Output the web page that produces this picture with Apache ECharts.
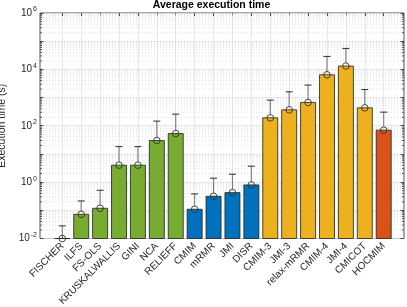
<!DOCTYPE html>
<html><head><meta charset="utf-8">
<script src="https://cdn.jsdelivr.net/npm/echarts@6/dist/echarts.min.js"></script>
<style>html,body{margin:0;padding:0;background:#fff}#c{width:407px;height:307px}</style>
</head><body><div id="c"></div>
<script>
const categories = ['FISCHER','ILFS','FS-OLS','KRUSKALWALLIS','GINI','NCA','RELIEFF','CMIM','mRMR','JMI','DISR','CMIM-3','JMI-3','relax-mRMR','CMIM-4','JMI-4','CMICOT','HOCMIM'];
const meanTime = [0.01, 0.072, 0.118, 4.0, 4.0, 29.8, 52.8, 0.109, 0.315, 0.424, 0.794, 191, 367, 667, 6430, 13100, 432, 69.8];
const upperTime = [0.028, 0.215, 0.515, 18.2, 18.2, 146, 258, 0.381, 1.38, 1.91, 3.67, 811, 1600, 2770, 28700, 55200, 1930, 304];
const family = [0,0,0,0,0,0,0,1,1,1,1,2,2,2,2,2,2,3];
const yTickExponents = [-2, 0, 2, 4, 6];
const yMin = 1e-2, yMax = 1e6;

const FONT = "'Liberation Sans', Helvetica, Arial, sans-serif";
const AX = '#262626';
const familyColors = ['#77AC30', '#0072BD', '#EDB120', '#D95319'];
const catData = [''].concat(categories, ['']);
const inner = (i) => i > 0 && i < catData.length - 1;

const minorVals = [];
for (let k = Math.log10(yMin); k < Math.log10(yMax); k++) {
  for (let m = 2; m <= 9; m++) minorVals.push([0.5, m * Math.pow(10, k)]);
}

const chart = echarts.init(document.getElementById('c'), null, {renderer: 'canvas'});
chart.setOption({
  animation: false,
  backgroundColor: '#fff',
  textStyle: {fontFamily: FONT},
  graphic: [{
    type: 'text', x: 211.5, y: 0,
    style: {text: 'Average execution time', align: 'center', verticalAlign: 'top',
      font: "bold 10.5px 'Liberation Sans', Helvetica, Arial, sans-serif", fill: '#000'}
  }],
  grid: [
    {left: 40, right: 3, top: 13, bottom: 68.5, show: true, borderColor: AX, borderWidth: 0.8,
     backgroundColor: '#fff', containLabel: false, outerBoundsMode: 'none'},
    {left: 43.4, right: 4.4, top: 13, bottom: 68.5, containLabel: false, outerBoundsMode: 'none'}
  ],
  xAxis: [
    {gridIndex: 0, type: 'value', min: 0, max: 1, show: false},
    {gridIndex: 1, type: 'category', boundaryGap: false, data: catData, position: 'bottom',
     axisLine: {show: false},
     axisTick: {show: true, inside: true, length: 3, interval: inner, lineStyle: {color: AX, width: 0.8}},
     axisLabel: {interval: 0, rotate: 45, fontSize: 10, color: AX, margin: 6, fontFamily: FONT},
     splitLine: {show: true, interval: inner, lineStyle: {color: '#e2e2e2', width: 0.8}}},
    {gridIndex: 1, type: 'category', boundaryGap: false, data: catData, position: 'top',
     axisLine: {show: false},
     axisTick: {show: true, inside: true, length: 3, interval: inner, lineStyle: {color: AX, width: 0.8}},
     axisLabel: {show: false}, splitLine: {show: false}}
  ],
  yAxis: [
    {gridIndex: 0, type: 'log', logBase: 10, min: yMin, max: yMax, interval: 1, position: 'left',
     name: 'Execution time (s)', nameLocation: 'middle', nameGap: 28,
     nameTextStyle: {fontSize: 10.5, color: AX, fontFamily: FONT},
     axisLine: {show: false},
     axisTick: {show: true, inside: true, length: 3.5, lineStyle: {color: AX, width: 0.8}},
     axisLabel: {margin: 3, color: AX,
       formatter: (v) => { const e = Math.round(Math.log10(v)); return yTickExponents.includes(e) ? '{b|10}{e|' + e + '}' : ''; },
       rich: {b: {fontSize: 10, color: AX, fontFamily: FONT}, e: {fontSize: 7, color: AX, fontFamily: FONT, padding: [0, 0, 7, 1]}}},
     splitLine: {show: true, lineStyle: {color: '#e2e2e2', width: 0.8}}},
    {gridIndex: 0, type: 'log', logBase: 10, min: yMin, max: yMax, interval: 1, position: 'right',
     axisLine: {show: false}, axisLabel: {show: false}, splitLine: {show: false},
     axisTick: {show: true, inside: true, length: 3.5, lineStyle: {color: AX, width: 0.8}}},
    {gridIndex: 1, type: 'log', logBase: 10, min: yMin, max: yMax, show: false}
  ],
  series: [
    {type: 'custom', xAxisIndex: 0, yAxisIndex: 0, z: 1, silent: true, data: minorVals,
     encode: {x: 0, y: 1},
     renderItem: (params, api) => {
       const cs = params.coordSys;
       const y = api.coord([0.5, api.value(1)])[1];
       return {type: 'group', children: [
         {type: 'line', shape: {x1: cs.x, y1: y, x2: cs.x + cs.width, y2: y},
          style: {stroke: '#d6d6d6', lineWidth: 0.8, lineDash: [1, 2]}},
         {type: 'line', shape: {x1: cs.x, y1: y, x2: cs.x + 2, y2: y}, style: {stroke: AX, lineWidth: 0.8}},
         {type: 'line', shape: {x1: cs.x + cs.width - 2, y1: y, x2: cs.x + cs.width, y2: y}, style: {stroke: AX, lineWidth: 0.8}}
       ]};
     }},
    {type: 'custom', xAxisIndex: 1, yAxisIndex: 2, z: 2, silent: true,
     data: categories.map((c, i) => [i + 1, meanTime[i], family[i]]),
     encode: {x: 0, y: 1},
     renderItem: (params, api) => {
       const cs = params.coordSys;
       const p = api.coord([api.value(0), api.value(1)]);
       const bottom = cs.y + cs.height;
       const w = 15;
       return {type: 'rect', shape: {x: p[0] - w / 2, y: p[1], width: w, height: bottom - p[1]},
         style: {fill: familyColors[api.value(2)], stroke: '#1f1f1f', lineWidth: 0.8}};
     }},
    {type: 'custom', xAxisIndex: 1, yAxisIndex: 2, z: 3, silent: true,
     data: categories.map((c, i) => [i + 1, meanTime[i], upperTime[i]]),
     encode: {x: 0, y: [1, 2]},
     renderItem: (params, api) => {
       const p0 = api.coord([api.value(0), api.value(1)]);
       const p1 = api.coord([api.value(0), api.value(2)]);
       return {type: 'group', children: [
         {type: 'line', shape: {x1: p0[0], y1: p0[1] - 3.3, x2: p1[0], y2: p1[1]}, style: {stroke: '#7a7a7a', lineWidth: 1.1}},
         {type: 'line', shape: {x1: p1[0] - 3.5, y1: p1[1], x2: p1[0] + 3.5, y2: p1[1]}, style: {stroke: '#3a3a3a', lineWidth: 1.1}},
         {type: 'circle', shape: {cx: p0[0], cy: p0[1], r: 3.3}, style: {fill: 'none', stroke: '#333', lineWidth: 0.9}}
       ]};
     }}
  ]
});
</script></body></html>
